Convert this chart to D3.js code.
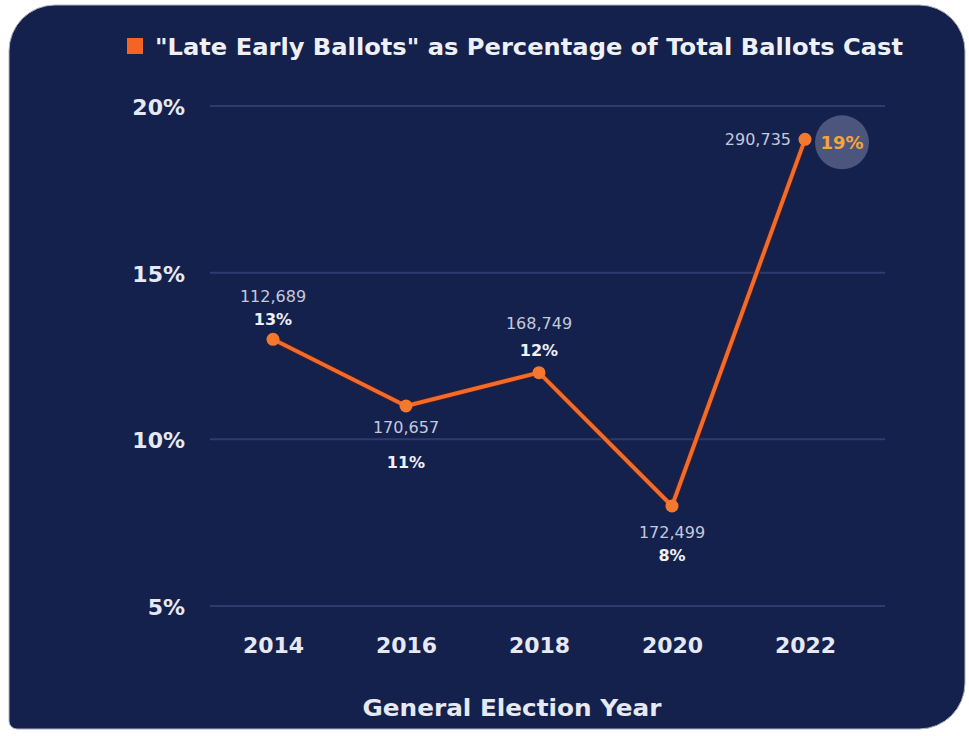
<!doctype html>
<html>
<head>
<meta charset="utf-8"/>
<title>Late Early Ballots</title>
<script src="https://d3js.org/d3.v7.min.js"></script>
<style>
 body { margin:0; background:#fff; }
 svg text { font-family: "DejaVu Sans", "Open Sans", sans-serif; }
</style>
</head>
<body>
<script>
// data
var years = ["2014", "2016", "2018", "2020", "2022"];
var pct = [13, 11, 12, 8, 19];
var ballots = ["112,689", "170,657", "168,749", "172,499", "290,735"];
var yTicks = [5, 10, 15, 20];

var W = 969, H = 736;
var svg = d3.select("body").append("svg")
    .attr("width", W)
    .attr("height", H);

// card background
var card = d3.path();
var x0 = 9, y0 = 5, x1 = 965, y1 = 729, r = 46, rb = 8;
card.moveTo(x0 + r, y0);
card.lineTo(x1 - r, y0);
card.arcTo(x1, y0, x1, y0 + r, r);
card.lineTo(x1, y1 - r);
card.arcTo(x1, y1, x1 - r, y1, r);
card.lineTo(x0 + rb, y1);
card.arcTo(x0, y1, x0, y1 - rb, rb);
card.lineTo(x0, y0 + r);
card.arcTo(x0, y0, x0 + r, y0, r);
card.closePath();
svg.append("path").attr("d", card.toString())
    .attr("fill", "#14214d")
    .attr("stroke", "#b0b2bc").attr("stroke-width", 1);

var x = d3.scalePoint().domain(years).range([273, 805]);
var y = d3.scaleLinear().domain([5, 20]).range([606, 106]);

// grid lines
svg.selectAll(".grid").data(yTicks).enter().append("line")
    .attr("x1", 210).attr("x2", 885)
    .attr("y1", function(d){ return y(d); })
    .attr("y2", function(d){ return y(d); })
    .attr("stroke", "#2e3b6e").attr("stroke-width", 2);

// y axis labels
svg.selectAll(".ylab").data(yTicks).enter().append("text")
    .attr("x", 185)
    .attr("y", function(d){ return y(d) + 9; })
    .attr("text-anchor", "end")
    .attr("fill", "#e6e8f2")
    .attr("font-size", 22).attr("font-weight", 600)
    .text(function(d){ return d + "%"; });

// x axis labels
var xAxis = d3.axisBottom(x).tickSize(0).tickPadding(0);
var gx = svg.append("g").attr("transform", "translate(0,637)").call(xAxis);
gx.select(".domain").remove();
gx.selectAll("text")
    .attr("fill", "#e6e8f2")
    .attr("font-size", 22).attr("font-weight", 600)
    .style("font-family", '"DejaVu Sans", sans-serif');

// axis title
svg.append("text")
    .attr("x", 512).attr("y", 716)
    .attr("text-anchor", "middle")
    .attr("fill", "#e6e8f2")
    .attr("font-size", 23).attr("font-weight", 600)
    .attr("textLength", 299).attr("lengthAdjust", "spacingAndGlyphs")
    .text("General Election Year");

// legend / title
svg.append("rect").attr("x", 127).attr("y", 38).attr("width", 16).attr("height", 16)
    .attr("fill", "#f26522");
svg.append("text")
    .attr("x", 155).attr("y", 55)
    .attr("fill", "#eef0f6")
    .attr("font-size", 23).attr("font-weight", 600)
    .attr("textLength", 748).attr("lengthAdjust", "spacingAndGlyphs")
    .text("\"Late Early Ballots\" as Percentage of Total Ballots Cast");

// highlight circle behind 2022 pct
svg.append("circle")
    .attr("cx", x("2022") + 37).attr("cy", y(19) + 3).attr("r", 27)
    .attr("fill", "#4c557e");

// line
var line = d3.line()
    .x(function(d, i){ return x(years[i]); })
    .y(function(d){ return y(d); });
svg.append("path").datum(pct).attr("d", line)
    .attr("fill", "none").attr("stroke", "#3a1e2a").attr("stroke-width", 6)
    .attr("stroke-linejoin", "round");
svg.append("path").datum(pct).attr("d", line)
    .attr("fill", "none").attr("stroke", "#f26b2a").attr("stroke-width", 4)
    .attr("stroke-linejoin", "round");
svg.selectAll(".pt").data(pct).enter().append("circle")
    .attr("cx", function(d, i){ return x(years[i]); })
    .attr("cy", function(d){ return y(d); })
    .attr("r", 6.5)
    .attr("fill", "#f5782f");

// data labels: offsets for ballots number and percent
var numDy = [-43, 21, -50, 26, 3];
var pctDy = [-20, 56, -23, 49, 3];
var lbl = svg.append("g");
pct.forEach(function(d, i) {
  var cx = x(years[i]), cy = y(d);
  if (i === 4) {
    lbl.append("text").attr("x", cx - 14).attr("y", cy + 6)
      .attr("text-anchor", "end").attr("fill", "#c5c9dc")
      .attr("font-size", 16).text(ballots[i]);
    lbl.append("text").attr("x", cx + 37).attr("y", cy + 10)
      .attr("text-anchor", "middle").attr("fill", "#f4a63a")
      .attr("font-size", 18).attr("font-weight", 700).text(d + "%");
  } else {
    lbl.append("text").attr("x", cx).attr("y", cy + numDy[i] + 6)
      .attr("text-anchor", "middle").attr("fill", "#c5c9dc")
      .attr("font-size", 16).text(ballots[i]);
    lbl.append("text").attr("x", cx).attr("y", cy + pctDy[i] + 6)
      .attr("text-anchor", "middle").attr("fill", "#eef0f6")
      .attr("font-size", 16).attr("font-weight", 700).text(d + "%");
  }
});
</script>
</body>
</html>
